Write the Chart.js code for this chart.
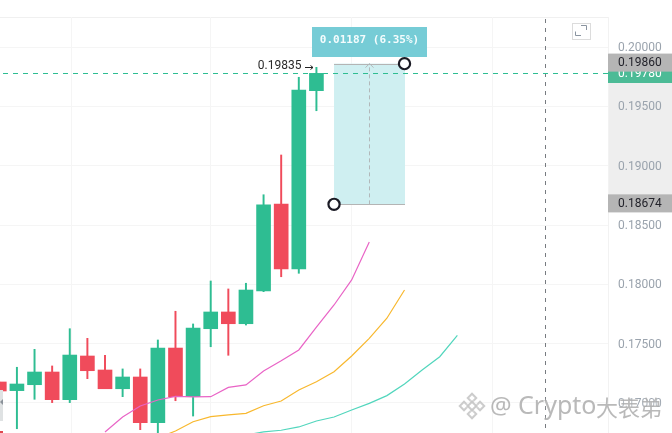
<!DOCTYPE html>
<html>
<head>
<meta charset="utf-8">
<style>html,body{margin:0;padding:0;background:#fff;overflow:hidden}canvas{display:block}</style>
<script src="https://cdn.jsdelivr.net/npm/chart.js@4"></script>
</head>
<body>
<canvas id="c" width="672" height="433"></canvas>
<script>
const candleIndex = [-1,0,1,2,3,4,5,6,7,8,9,10,11,12,13,14,15,16,17];
const candleOpen  = [.17177,.17104,.17154,.17261,.17028,.17396,.17278,.17120,.17219,.16834,.17463,.17053,.17626,.17767,.17668,.17944,.18677,.18129,.19632];
const candleClose = [.17101,.17160,.17261,.17028,.17404,.17272,.17120,.17219,.16834,.17463,.17053,.17632,.17767,.17668,.17952,.18669,.18129,.19638,.19778];
const candleHigh  = [.17177,.17301,.17452,.17312,.17626,.17545,.17402,.17287,.17287,.17531,.17773,.17666,.18028,.17961,.18009,.18755,.19090,.19745,.19829];
const candleLow   = [.17101,.16783,.17031,.17003,.17003,.17205,.17120,.17053,.16775,.16750,.17019,.16890,.17474,.17402,.17657,.17938,.18064,.18093,.19463];

const maPinkIndex = [5,6,7,8,9,10,11,12,13,14,15,16,17,18,19,20];
const maPink = [.16756,.16882,.16975,.17025,.17056,.17051,.17053,.17131,.17152,.17270,.17356,.17447,.17640,.17826,.18037,.18357];
const maOrangeIndex = [8,9,10,11,12,13,14,15,16,17,18,19,20,21,22];
const maOrange = [.16705,.16764,.16842,.16885,.16899,.16913,.16977,.17017,.17110,.17179,.17264,.17396,.17545,.17714,.17952];
const maTealIndex = [13,14,15,16,17,18,19,20,21,22,23,24,25];
const maTeal = [.16730,.16756,.16770,.16798,.16848,.16882,.16941,.16997,.17062,.17160,.17278,.17390,.17570];

const yTicks = [.20000,.19500,.19000,.18500,.18000,.17500,.17000];
const xGridTicks = [-0.82,7,15,23,31];
const lastPrice = .19780;
const highMark = .19835;
const rangeHigh = .19860, rangeLow = .18674;
const rangeStart = 18, rangeEnd = 22;
const rangeText = '0.01187 (6.35%)';

const GREEN = '#2ebd92', RED = '#f04b5b';
const isUp = candleIndex.map((_, i) => candleClose[i] >= candleOpen[i]);
const colors = isUp.map(u => u ? GREEN : RED);
const fmt = v => v.toFixed(5);

const overlay = {
  id: 'overlay',
  beforeDraw(chart) {
    const ctx = chart.ctx, y = chart.scales.y;
    ctx.save();
    ctx.fillStyle = '#fff';
    ctx.fillRect(0, 0, 672, 433);
    ctx.fillStyle = '#eeeeee';
    ctx.fillRect(608, y.getPixelForValue(rangeHigh) - 10, 64, y.getPixelForValue(rangeLow) - y.getPixelForValue(rangeHigh) + 18);
    ctx.strokeStyle = '#f0f0f0';
    ctx.lineWidth = 1;
    ctx.beginPath(); ctx.moveTo(0, 17.5); ctx.lineTo(608, 17.5); ctx.stroke();
    ctx.restore();
  },
  afterDraw(chart) {
    const ctx = chart.ctx, x = chart.scales.x, y = chart.scales.y;
    const xa = x.getPixelForValue(rangeStart), xb = x.getPixelForValue(rangeEnd) + .5;
    const yHi = y.getPixelForValue(rangeHigh), yLo = y.getPixelForValue(rangeLow);
    const yLast = y.getPixelForValue(lastPrice);
    ctx.save();

    // range tool
    ctx.fillStyle = '#cfeff1';
    ctx.fillRect(xa, yHi, xb - xa, yLo - yHi);
    ctx.strokeStyle = '#b4b4b4'; ctx.lineWidth = 1;
    ctx.beginPath();
    ctx.moveTo(xa, Math.round(yHi) + .5); ctx.lineTo(xb, Math.round(yHi) + .5);
    ctx.moveTo(xa, Math.round(yLo) + .5); ctx.lineTo(xb, Math.round(yLo) + .5);
    ctx.stroke();
    const xm = Math.round((xa + xb) / 2) - .5;
    ctx.strokeStyle = '#b2b8ba';
    ctx.setLineDash([4, 3]);
    ctx.beginPath(); ctx.moveTo(xm, yLo); ctx.lineTo(xm, yHi); ctx.stroke();
    ctx.setLineDash([]);
    ctx.beginPath(); ctx.moveTo(xm - 4, yHi + 4); ctx.lineTo(xm, yHi); ctx.lineTo(xm + 4, yHi + 4); ctx.stroke();

    // crosshair vertical
    ctx.strokeStyle = '#777b80'; ctx.setLineDash([4, 5]);
    ctx.beginPath(); ctx.moveTo(545.5, 19); ctx.lineTo(545.5, 433); ctx.stroke();

    // last price line
    ctx.strokeStyle = GREEN; ctx.setLineDash([5, 5]);
    ctx.beginPath(); ctx.moveTo(3, Math.round(yLast) + .5); ctx.lineTo(612, Math.round(yLast) + .5); ctx.stroke();
    ctx.setLineDash([]);

    // value box
    ctx.fillStyle = '#76ccd6';
    ctx.fillRect(312, 27, 115, 30);
    ctx.fillStyle = '#f4fcfd';
    ctx.font = 'bold 11px "DejaVu Sans Mono"';
    ctx.textAlign = 'center'; ctx.textBaseline = 'middle';
    ctx.fillText(rangeText, 369.5, 40.5);

    // handles
    ctx.strokeStyle = '#1b1b25'; ctx.lineWidth = 2.2; ctx.fillStyle = '#fff';
    [[xb - .5, yHi], [xa, yLo]].forEach(p => {
      ctx.beginPath(); ctx.arc(p[0], p[1], 5.6, 0, Math.PI * 2); ctx.fill(); ctx.stroke();
    });

    // high mark
    ctx.fillStyle = '#2a2a2a';
    ctx.font = '12px Roboto'; ctx.textAlign = 'right';
    ctx.fillText(fmt(highMark), 301.5, 65.5);
    ctx.strokeStyle = '#222'; ctx.lineWidth = 1;
    ctx.beginPath();
    ctx.moveTo(305, 67.5); ctx.lineTo(313, 67.5);
    ctx.moveTo(310.5, 65.5); ctx.lineTo(313, 67.5); ctx.lineTo(310.5, 69.5);
    ctx.stroke();

    // axis labels
    ctx.textAlign = 'left';
    ctx.fillStyle = '#4cbb96';
    ctx.fillRect(608, 63, 64, 20);
    ctx.fillStyle = '#ffffff';
    ctx.fillText(fmt(lastPrice), 618, 73.5);
    ctx.fillStyle = '#b5b5b5';
    ctx.fillRect(608, yHi - 10, 64, 18);
    ctx.fillRect(608, yLo - 10, 64, 18);
    ctx.fillStyle = '#23232b';
    ctx.fillText(fmt(rangeHigh), 618, yHi - .5);
    ctx.fillText(fmt(rangeLow), 618, yLo - .5);

    // expand icon
    ctx.strokeStyle = '#dcdcdc'; ctx.lineWidth = 1;
    ctx.strokeRect(572.5, 23.5, 18, 16);
    ctx.strokeStyle = '#8a94a0';
    ctx.beginPath();
    ctx.moveTo(581, 25.5); ctx.lineTo(586.5, 25.5); ctx.lineTo(586.5, 30);
    ctx.moveTo(575.5, 31.5); ctx.lineTo(575.5, 35.5); ctx.lineTo(581, 35.5);
    ctx.stroke();

    // left edge fragments
    ctx.fillStyle = '#dfe2e3';
    ctx.fillRect(0, 390, 3, 31);
    ctx.fillStyle = '#8b929a';
    ctx.beginPath(); ctx.moveTo(3, 399); ctx.lineTo(0, 402); ctx.lineTo(3, 405); ctx.fill();
    ctx.fillStyle = '#e0474f'; ctx.fillRect(0, 431, 3, 2);

    // watermark
    ctx.shadowColor = 'rgba(255,255,255,.9)'; ctx.shadowBlur = 3;
    ctx.strokeStyle = 'rgba(195,195,195,.85)'; ctx.fillStyle = 'rgba(170,170,170,.82)';
    ctx.lineWidth = 2;
    const lx = 472, ly = 406;
    [[0, -8], [-8, 0], [8, 0], [0, 8], [0, 0]].forEach(o => {
      ctx.save(); ctx.translate(lx + o[0], ly + o[1]); ctx.rotate(Math.PI / 4);
      ctx.strokeRect(-3, -3, 6, 6); ctx.restore();
    });
    ctx.textAlign = 'left';
    ctx.font = '24px "Noto Sans"';
    ctx.fillText('@', 490, 407);
    ctx.font = '25px "Noto Sans"';
    ctx.fillText('Crypto', 518, 407);
    ctx.font = '22px "Noto Sans CJK SC"';
    ctx.fillText('大表弟', 596, 408);
    ctx.restore();
  }
};

const idxToPoints = (xs, ys) => xs.map((v, i) => ({ x: v, y: ys[i] }));
const lineDs = (xs, ys, color) => ({
  type: 'line', data: idxToPoints(xs, ys), borderColor: color, borderWidth: 1.2,
  pointRadius: 0, tension: 0, fill: false, order: 0
});

new Chart(document.getElementById('c'), {
  type: 'bar',
  data: {
    datasets: [
      lineDs(maPinkIndex, maPink, '#e964c6'),
      lineDs(maOrangeIndex, maOrange, '#f8b82e'),
      lineDs(maTealIndex, maTeal, '#52d6bd'),
      { type: 'bar', data: candleIndex.map((v, i) => ({ x: v, y: [candleLow[i], candleHigh[i]] })),
        backgroundColor: colors, barThickness: 1.3, grouped: false, order: 2 },
      { type: 'bar', data: candleIndex.map((v, i) => ({ x: v, y: [candleOpen[i], candleClose[i]] })),
        backgroundColor: colors, barThickness: 14, grouped: false, order: 1 }
    ]
  },
  options: {
    responsive: false,
    animation: false,
    devicePixelRatio: 1,
    layout: { padding: { top: 17, left: 0, right: 0, bottom: 0 }, autoPadding: false },
    plugins: { legend: { display: false }, tooltip: { enabled: false } },
    scales: {
      x: {
        type: 'linear', display: true, min: -0.96, max: 33.55, offset: false,
        afterBuildTicks: s => { s.ticks = xGridTicks.map(v => ({ value: v })); },
        afterFit: s => { s.height = 0; s.paddingLeft = s.paddingRight = s.paddingTop = s.paddingBottom = 0; },
        ticks: { display: false, padding: 0 },
        grid: { color: '#f5f5f5', drawTicks: false, lineWidth: 1, tickLength: 0 },
        border: { display: false }
      },
      y: {
        position: 'right', min: .16747, max: .20253,
        afterBuildTicks: s => { s.ticks = yTicks.map(v => ({ value: v })); },
        afterFit: s => { s.width = 64; s.paddingTop = s.paddingBottom = 0; },
        ticks: { padding: 10, labelOffset: 1, color: '#9aa3ad', font: { family: 'Roboto', size: 12 }, callback: v => fmt(v) },
        grid: { color: '#f5f5f5', drawTicks: false, lineWidth: 1 },
        border: { display: true, color: '#f2f2f2' }
      }
    }
  },
  plugins: [overlay]
});
</script>
</body>
</html>
